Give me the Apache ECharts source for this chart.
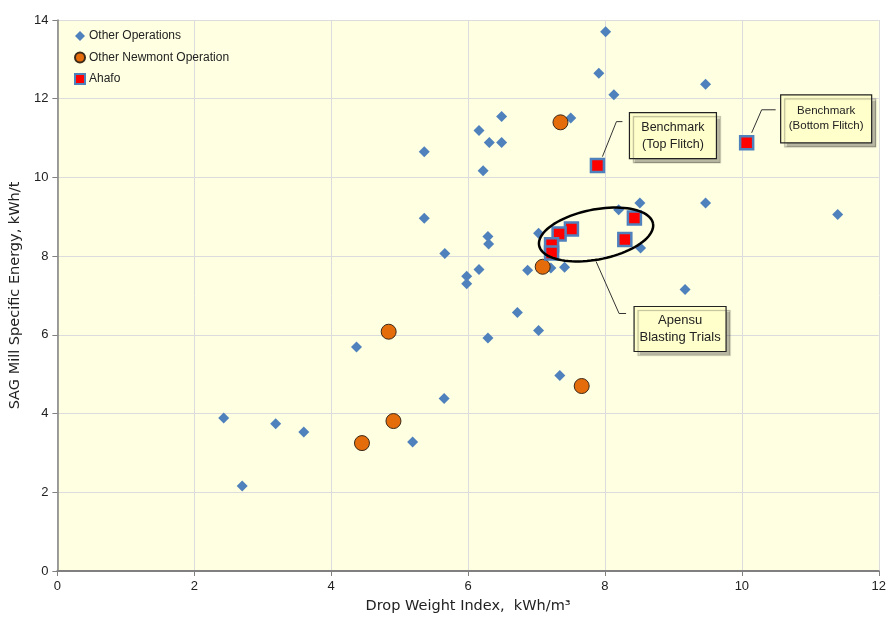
<!DOCTYPE html>
<html>
<head>
<meta charset="utf-8">
<script src="https://cdn.jsdelivr.net/npm/echarts@6/dist/echarts.min.js"></script>
<style>html,body{margin:0;padding:0;background:#fff}#c{width:889px;height:619px}</style>
</head>
<body>
<div id="c"></div>
<script>
// ---- data ----
const otherOperations = [
  [2.43,3.89],[2.70,2.16],[3.19,3.74],[3.60,3.53],[4.37,5.69],[5.19,3.28],[5.65,4.38],
  [5.36,10.65],[5.36,8.96],[5.66,8.07],[5.98,7.49],[5.98,7.30],[6.16,7.66],[6.16,11.19],
  [6.31,10.89],[6.49,10.89],[6.49,11.55],[6.22,10.17],[6.29,8.50],[6.30,8.31],[7.03,8.58],
  [6.72,6.57],[7.03,6.11],[6.29,5.92],[7.34,4.97],[6.87,7.64],[7.21,7.70],[7.41,7.72],
  [7.50,11.51],[8.01,13.70],[7.91,12.65],[8.13,12.10],[8.20,9.18],[8.51,9.35],[8.52,8.21],
  [9.47,12.37],[9.47,9.35],[9.17,7.15],[11.40,9.06]
];
const otherNewmont = [[7.35,11.40],[7.09,7.73],[4.84,6.08],[4.91,3.81],[4.45,3.25],[7.66,4.70]];
const ahafo = [[7.89,10.30],[10.07,10.88],[8.43,8.97],[8.29,8.42],[7.51,8.69],[7.33,8.56],[7.22,8.29],[7.22,8.08]];
const seriesNames = ['Other Operations','Other Newmont Operation','Ahafo'];
const xAxisTitle = 'Drop Weight Index,  kWh/m³';
const yAxisTitle = 'SAG Mill Specific Energy, kWh/t';
const xRange = [0, 12, 2];
const yRange = [0, 14, 2];
const calloutTopFlitch = ['Benchmark', '(Top Flitch)'];
const calloutBottomFlitch = ['Benchmark', '(Bottom Flitch)'];
const calloutApensu = ['Apensu', 'Blasting Trials'];
const apensuCenter = [7.87, 8.55];

const FONT = 'Liberation Sans';
const TITLE_FONT = 'DejaVu Sans';
const chart = echarts.init(document.getElementById('c'), null, {renderer: 'canvas'});
const option = {
  animation: false,
  textStyle: {fontFamily: FONT},
  grid: {left: 57, right: 9, top: 20, bottom: 47, show: true, backgroundColor: '#FFFFE1', borderWidth: 0},
  legend: {
    orient: 'vertical', left: 69, top: 25, itemWidth: 10, itemHeight: 10, itemGap: 9.5,
    textStyle: {fontFamily: FONT, fontSize: 12, color: '#222', padding: [0, 0, 0, -1]},
    data: seriesNames
  },
  xAxis: {
    type: 'value', min: xRange[0], max: xRange[1], interval: xRange[2],
    name: xAxisTitle, nameLocation: 'middle', nameGap: 28,
    nameTextStyle: {fontFamily: TITLE_FONT, fontSize: 14.5, color: '#222'},
    axisLine: {onZero: false, lineStyle: {color: '#808080', width: 2}},
    axisTick: {show: true, length: 5, lineStyle: {color: '#808080'}},
    axisLabel: {fontFamily: FONT, fontSize: 13, color: '#222', margin: 9},
    splitLine: {show: true, lineStyle: {color: '#DCDCDC', width: 1}}
  },
  yAxis: {
    type: 'value', min: yRange[0], max: yRange[1], interval: yRange[2],
    name: yAxisTitle, nameLocation: 'middle', nameGap: 27,
    nameTextStyle: {fontFamily: TITLE_FONT, fontSize: 14.5, color: '#222'},
    axisLine: {show: true, onZero: false, lineStyle: {color: '#808080', width: 1.5}},
    axisTick: {show: true, length: 5, lineStyle: {color: '#808080'}},
    axisLabel: {fontFamily: FONT, fontSize: 13, color: '#222', margin: 9},
    splitLine: {show: true, lineStyle: {color: '#DCDCDC', width: 1}}
  },
  series: [
    {name: seriesNames[0], type: 'scatter', data: otherOperations, symbol: 'diamond', symbolSize: 11,
     itemStyle: {color: '#4F81BD', opacity: 1}, z: 2},
    {name: seriesNames[1], type: 'scatter', data: otherNewmont, symbol: 'circle', symbolSize: 15,
     itemStyle: {color: '#E46C0A', borderColor: '#3B2A1A', borderWidth: 1, opacity: 1}, z: 3},
    {name: seriesNames[2], type: 'scatter', data: ahafo, symbol: 'rect', symbolSize: 13,
     itemStyle: {color: '#FF0000', borderColor: '#4F81BD', borderWidth: 2.5, opacity: 1}, z: 4}
  ]
};
chart.setOption(option);

function callout(anchor, lead, box, lines, fontSize, lh) {
  const [ax, ay] = anchor;
  const els = [];
  els.push({type: 'polyline', z: 50, silent: true,
    shape: {points: lead.map(p => [ax + p[0], ay + p[1]])},
    style: {stroke: '#333', lineWidth: 1, fill: null}});
  const bx = ax + box[0], by = ay + box[1], bw = box[2], bh = box[3];
  els.push({type: 'rect', z: 50, silent: true, shape: {x: bx, y: by, width: bw, height: bh},
    style: {fill: '#FFFFCC', stroke: '#222', lineWidth: 1.2,
      shadowColor: 'rgba(0,0,0,0.28)', shadowOffsetX: 4, shadowOffsetY: 4, shadowBlur: 1}});
  const top = by + bh / 2 - lh * lines.length / 2 + lh / 2;
  lines.forEach((t, i) => {
    els.push({type: 'text', z: 51, silent: true, x: bx + bw / 2, y: top + i * lh,
      style: {text: t, fill: '#222', fontFamily: FONT, fontSize: fontSize, align: 'center', verticalAlign: 'middle'}});
  });
  return els;
}

const pTop = chart.convertToPixel({gridIndex: 0}, ahafo[0]);
const pBot = chart.convertToPixel({gridIndex: 0}, ahafo[1]);
const pC = chart.convertToPixel({gridIndex: 0}, apensuCenter);

// ellipse outline (pixel geometry around the data-anchored centre)
const a = 58, b = 25, th = 11 * Math.PI / 180;
const ell = [];
for (let i = 0; i <= 90; i++) {
  const t = i / 90 * 2 * Math.PI;
  const ex = a * Math.cos(t), ey = b * Math.sin(t);
  ell.push([pC[0] + ex * Math.cos(th) + ey * Math.sin(th), pC[1] - ex * Math.sin(th) + ey * Math.cos(th)]);
}

const graphics = [
  {type: 'polyline', z: 49, silent: true, shape: {points: ell}, style: {stroke: '#000', lineWidth: 2.5, fill: null}}
]
.concat(callout(pTop, [[5,-9],[19,-44],[25,-44]], [32,-53,87,46], calloutTopFlitch, 12.5, 17))
.concat(callout(pBot, [[5,-10],[15,-33],[29,-33]], [34,-48,91,48], calloutBottomFlitch, 11.5, 15))
.concat(callout(pC, [[0,27],[23,79],[30,79]], [38,72,92,45], calloutApensu, 13, 17));

chart.setOption({graphic: {elements: graphics}});
</script>
</body>
</html>
